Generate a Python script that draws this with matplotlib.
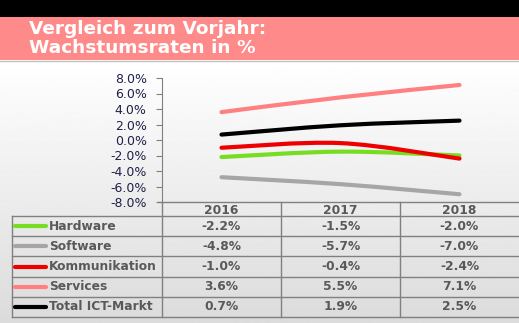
import numpy as np
import matplotlib
matplotlib.use('Agg')
import matplotlib.pyplot as plt
from matplotlib.path import Path
from matplotlib.patches import PathPatch, Rectangle

years = ['2016', '2017', '2018']
series_names = ['Hardware', 'Software', 'Kommunikation', 'Services', 'Total ICT-Markt']
hardware = [-2.2, -1.5, -2.0]
software = [-4.8, -5.7, -7.0]
kommunikation = [-1.0, -0.4, -2.4]
services = [3.6, 5.5, 7.1]
total_ict = [0.7, 1.9, 2.5]
series_values = [hardware, software, kommunikation, services, total_ict]
colors = ['#77DD22', '#A6A6A6', '#EE0000', '#FF8080', '#000000']
y_ticks = [-8, -6, -4, -2, 0, 2, 4, 6, 8]

W, H = 519, 323
fig = plt.figure(figsize=(W / 100, H / 100), dpi=100)

# background layer in pixel coordinates
bg = fig.add_axes([0, 0, 1, 1], zorder=0)
bg.set_xlim(0, W)
bg.set_ylim(H, 0)
bg.axis('off')
grad = np.linspace(1.0, 0.86, 256).reshape(-1, 1)
bg.imshow(grad, cmap='gray', vmin=0, vmax=1, extent=[0, W, H, 60], aspect='auto')
bg.add_patch(Rectangle((0, 0), W, 17, color='black', lw=0))
bg.add_patch(Rectangle((0, 17), W, 43, color='#FF8A8A', lw=0))
bg.plot([0, W], [60.5, 60.5], color='#C0C0C0', lw=1)
bg.text(29, 29, 'Vergleich zum Vorjahr:', color='white', fontsize=13.3,
        fontweight='bold', va='center', ha='left')
bg.text(29, 48, 'Wachstumsraten in %', color='white', fontsize=13.3,
        fontweight='bold', va='center', ha='left')

# chart
ax_left, ax_right, ax_top, ax_bot = 162, 519, 78, 202
ax = fig.add_axes([ax_left / W, 1 - ax_bot / H, (ax_right - ax_left) / W,
                   (ax_bot - ax_top) / H], zorder=1)
ax.set_facecolor('none')
ax.set_xlim(-0.5, 2.5)
ax.set_ylim(-8, 8)
ax.set_yticks(y_ticks)
ax.set_yticklabels([f'{t:.1f}%' for t in y_ticks])
ax.set_xticks([])
for s in ['top', 'right', 'bottom']:
    ax.spines[s].set_visible(False)
ax.spines['left'].set_color('#808080')
ax.tick_params(axis='y', direction='out', length=4, color='#808080',
               labelsize=9, labelcolor='#1F1F48', pad=7)


def smooth_path(ys):
    xs = np.arange(len(ys), dtype=float)
    pts = np.column_stack([xs, np.asarray(ys, dtype=float)])
    verts = [pts[0]]
    codes = [Path.MOVETO]
    n = len(pts)
    for i in range(n - 1):
        p0 = pts[max(i - 1, 0)]
        p1 = pts[i]
        p2 = pts[i + 1]
        p3 = pts[min(i + 2, n - 1)]
        verts += [p1 + (p2 - p0) / 6, p2 - (p3 - p1) / 6, p2]
        codes += [Path.CURVE4] * 3
    return Path(verts, codes)


order = [1, 0, 2, 3, 4]
for i in order:
    patch = PathPatch(smooth_path(series_values[i]), fill=False,
                      edgecolor=colors[i], lw=3, capstyle='round',
                      joinstyle='round')
    ax.add_patch(patch)

# data table
line_c = '#808080'
cols = [162, 281, 400, 519]
rows = [216, 236, 256, 277, 297, 317]
text_c = '#595959'
bg.plot([158, W], [202, 202], color=line_c, lw=1)
for x in cols[:3]:
    bg.plot([x, x], [202, rows[-1]], color=line_c, lw=1)
bg.plot([12, 12], [rows[0], rows[-1]], color=line_c, lw=1)
for y in rows:
    bg.plot([12, W], [y, y], color=line_c, lw=1)
for j, yr in enumerate(years):
    bg.text((cols[j] + cols[j + 1]) / 2, 210, yr, ha='center', va='center',
            fontsize=8.8, fontweight='bold', color=text_c)
for i, name in enumerate(series_names):
    yc = (rows[i] + rows[i + 1]) / 2
    bg.plot([15, 46], [yc, yc], color=colors[i], lw=3, solid_capstyle='round')
    bg.text(49, yc, name, ha='left', va='center', fontsize=8.8,
            fontweight='bold', color=text_c)
    for j, v in enumerate(series_values[i]):
        bg.text((cols[j] + cols[j + 1]) / 2, yc, f'{v:.1f}%', ha='center',
                va='center', fontsize=8.8, fontweight='bold', color=text_c)

fig.savefig('out.png', dpi=100)
